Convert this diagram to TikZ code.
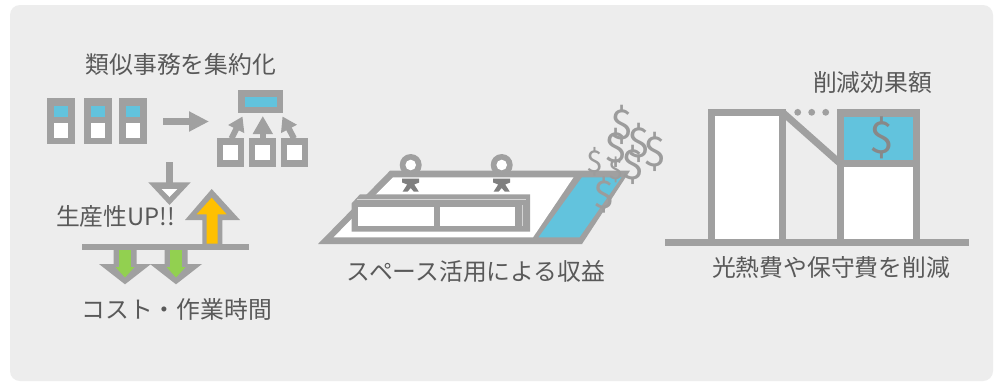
\documentclass[tikz,border=0pt]{standalone}
\usepackage{fontspec}
\setmainfont{Noto Sans CJK JP}
\usetikzlibrary{arrows.meta}

\definecolor{panel}{HTML}{EDEDED}
\definecolor{frame}{HTML}{A0A0A0}
\definecolor{ink}{HTML}{595959}
\definecolor{sky}{HTML}{62C3DD}
\definecolor{amber}{HTML}{FFC000}
\definecolor{leaf}{HTML}{92D050}
\definecolor{person}{HTML}{7F7F7F}
\definecolor{edgelight}{HTML}{D4D4D4}
\definecolor{coin}{HTML}{9C9C9C}

\begin{document}
\begin{tikzpicture}[x=1pt,y=-1pt,
  lbl/.style={text=ink, font=\fontsize{23.8pt}{28pt}\selectfont, inner sep=0pt, anchor=base},
  money/.style={text=coin, inner sep=0pt, anchor=center},
  flow/.style={draw=frame, line width=6.5pt},
]
% canvas and panel
\fill[white] (0,0) rectangle (996,384);
\useasboundingbox (0,0) rectangle (996,384);
\fill[panel, rounded corners=10pt] (10,5) rectangle (993,381);

% ---------- consolidation of similar tasks ----------
\node[lbl] (tConsol) at (180.8,73) {類似事務を集約化};

\foreach \x/\n in {47/d1, 84.3/d2, 119.3/d3}{
  \fill[frame] (\x,98.3) rectangle ++(28,46);
  \fill[sky]   (\x+7,106) rectangle ++(13.7,10.5);
  \fill[white] (\x+7,122.7) rectangle ++(13.7,15);
  \coordinate (\n) at (\x+14,144.3);
}
\coordinate (mergeFrom) at (163,121.5);
\coordinate (mergeTo) at (209,121.5);
\draw[flow, -{Triangle[width=19pt,length=20pt]}] (mergeFrom) -- (mergeTo);

% merged unit
\fill[frame] (238.3,90) rectangle (282.7,113.3);
\fill[sky]   (245,96.7) rectangle (276.7,107.3);
\foreach \x/\n in {216.5/u1, 249/u2, 281/u3}{
  \fill[frame] (\x,137.5) rectangle ++(27.3,29);
  \fill[white] (\x+6.3,145) rectangle ++(15,15);
}
\coordinate (u1s) at (231.5,138.5);
\coordinate (u1e) at (242.5,116.5);
\coordinate (u2s) at (262.8,138.5);
\coordinate (u2e) at (262.8,116);
\coordinate (u3s) at (294,138.5);
\coordinate (u3e) at (282.5,116.5);
\draw[draw=frame, line width=6pt, -{Triangle[width=17pt,length=14pt]}] (u1s) -- (u1e);
\draw[draw=frame, line width=6pt, -{Triangle[width=19pt,length=18pt]}] (u2s) -- (u2e);
\draw[draw=frame, line width=6pt, -{Triangle[width=17pt,length=14pt]}] (u3s) -- (u3e);

% down arrow into productivity
\fill[frame] (165.5,161.7) rectangle (172.5,183);
\fill[frame] (148.3,182.3) -- (190.7,182.3) -- (169.5,205) -- cycle;
\fill[white] (161.7,189) -- (177.3,189) -- (169.5,197) -- cycle;
\node[lbl] (tUp) at (115.5,225) {生産性UP!!};

% baseline bar
\fill[frame] (82.3,243.6) rectangle (249.3,250);

% rising arrow
\fill[frame] (211.7,189) -- (240,220) -- (222.3,220) -- (222.3,244) -- (202.3,244) -- (202.3,220) -- (185,220) -- cycle;
\fill[amber] (211.7,197.7) -- (226.7,214.3) -- (217.7,214.3) -- (217.7,243.6) -- (206.7,243.6) -- (206.7,214.3) -- (196.7,214.3) -- cycle;

% falling arrows
\foreach \c in {125,176}{
  \fill[frame] (\c-11.5,249) -- (\c+11.5,249) -- (\c+11.5,264) -- (\c+26,264) -- (\c,284.3) -- (\c-26,264) -- (\c-11.5,264) -- cycle;
  \fill[leaf] (\c-5.8,250) -- (\c+5.8,250) -- (\c+5.8,267) -- (\c+9.5,267) -- (\c,277.5) -- (\c-9.5,267) -- (\c-5.8,267) -- cycle;
}
\node[lbl] (tCost) at (176.7,318) {コスト・作業時間};

% ---------- revenue from freed space ----------
\fill[frame] (318,244) -- (582,244) -- (630,170.7) -- (390,170.7) -- cycle;
\fill[white] (333.5,237.3) -- (533,237.3) -- (573.5,177.3) -- (393,177.3) -- cycle;
\fill[sky]   (538.5,237.3) -- (579.5,237.3) -- (621.5,177.3) -- (582,177.3) -- cycle;

% desks
\fill[frame] (351.7,231.7) -- (351.7,203.3) -- (360,194.3) -- (530,194.3) -- (530,231.7) -- cycle;
\draw[edgelight, line width=1pt] (357,199.2) -- (526,199.2);
\draw[edgelight, line width=1pt] (522,205) -- (522,226);
\fill[white] (358.3,206.7) rectangle (434,226);
\fill[white] (440,206.7) rectangle (515,226);

% people
\foreach \c/\n in {410.7/p1, 501.7/p2}{
  \fill[frame] (\c,165) circle[radius=11pt];
  \fill[white] (\c,165) circle[radius=5.3pt];
  \fill[person] (\c-8.5,178.5) -- (\c+8.5,178.5) -- (\c+8.5,182.5) -- (\c+3.5,184.5) -- (\c+8,191.5) -- (\c+3,191.5)
     -- (\c,188) -- (\c-3,191.5) -- (\c-8,191.5) -- (\c-3.5,184.5) -- (\c-8.5,182.5) -- cycle;
  \coordinate (\n) at (\c,165);
}

% rising money
\node[money, font=\fontsize{41pt}{44pt}\selectfont] (m1) at (621.7,125) {\$};
\node[money, font=\fontsize{41pt}{44pt}\selectfont] (m2) at (616,148.3) {\$};
\node[money, font=\fontsize{41pt}{44pt}\selectfont] (m3) at (639.3,143.3) {\$};
\node[money, font=\fontsize{41pt}{44pt}\selectfont] (m4) at (655,151.7) {\$};
\node[money, font=\fontsize{30pt}{33pt}\selectfont] (m5) at (595,161.7) {\$};
\node[money, font=\fontsize{27pt}{30pt}\selectfont] (m6) at (616,170) {\$};
\node[money, font=\fontsize{41pt}{44pt}\selectfont] (m7) at (633.3,165) {\$};
\node[money, font=\fontsize{38pt}{41pt}\selectfont] (m8) at (604.3,195) {\$};

\node[lbl] (tSpace) at (476,280) {スペース活用による収益};

% ---------- utility and maintenance savings ----------
\node[lbl] (tSave) at (872.5,91.5) {削減効果額};

\fill[frame] (707.7,109) rectangle (785.7,241);
\fill[white] (715,115.7) rectangle (779,241);
\coordinate (slopeA) at (782.5,112.3);
\coordinate (slopeB) at (840,163.3);
\draw[frame, line width=7pt] (slopeA) -- (slopeB);
\foreach \x in {797.7,811.7,825.7}
  \fill[frame] (\x,112.3) circle[radius=3.4pt];

\fill[frame] (836.7,109) rectangle (920,241);
\fill[sky]   (844,116.7) rectangle (913.3,160);
\fill[white] (844,166.7) rectangle (913.3,241);
\node[money, font=\fontsize{44pt}{47pt}\selectfont, text=frame!85!black] (mSave) at (881.7,138.3) {\$};

\fill[frame] (665,239.3) rectangle (969.3,246);
\node[lbl] (tCut) at (831,276.5) {光熱費や保守費を削減};
\end{tikzpicture}
\end{document}
